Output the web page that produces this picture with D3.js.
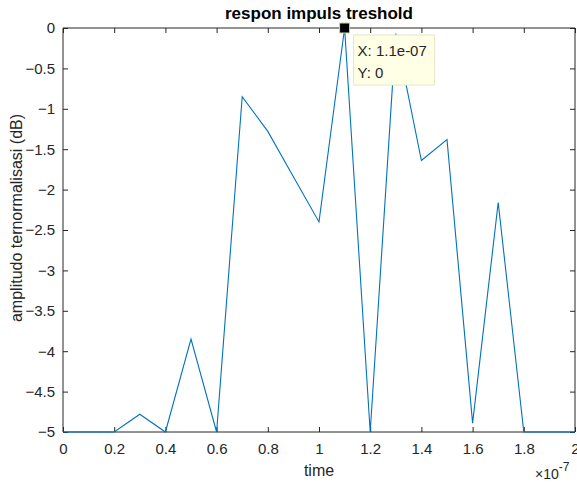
<!DOCTYPE html>
<html>
<head>
<meta charset="utf-8">
<script src="https://cdn.jsdelivr.net/npm/d3@7"></script>
<style>
  body { margin: 0; background: #fff; }
  svg { display: block; font-family: Arial, "Liberation Sans", Helvetica, sans-serif; }
</style>
</head>
<body>
<svg id="chart" width="577" height="485"></svg>
<script>
// Time axis (in units of 1e-7 s) and normalised impulse response (dB)
const timeValues = [0, 0.1, 0.2, 0.3, 0.4, 0.5, 0.6, 0.7, 0.8, 0.9, 1.0,
                    1.1, 1.2, 1.3, 1.4, 1.5, 1.6, 1.7, 1.8, 1.9, 2.0];
const amplitudeDb = [-5, -5, -5, -4.78, -5, -3.85, -5, -0.85, -1.28, -1.84, -2.40,
                     0, -5, -0.07, -1.64, -1.38, -4.89, -2.16, -5, -5, -5];
const xTicks = [0, 0.2, 0.4, 0.6, 0.8, 1, 1.2, 1.4, 1.6, 1.8, 2];
const yTicks = [0, -0.5, -1, -1.5, -2, -2.5, -3, -3.5, -4, -4.5, -5];
const tipPoint = { x: 1.1, y: 0, label: ["X: 1.1e-07", "Y: 0"] };

const svg = d3.select("#chart");
const m = { left: 63, right: 575, top: 28, bottom: 432 };
const axisColor = "#262626";

const x = d3.scaleLinear().domain([0, 2]).range([m.left, m.right]);
const y = d3.scaleLinear().domain([-5, 0]).range([m.bottom, m.top]);

const tickLen = 5;
const g = svg.append("g");

// axes box with inward ticks on all four sides
function styleAxis(sel) {
  sel.selectAll("path").attr("stroke", axisColor).attr("stroke-width", 1);
  sel.selectAll("line").attr("stroke", axisColor).attr("stroke-width", 1);
  sel.selectAll("text").attr("fill", axisColor).style("font-size", "15px");
}

g.append("g").attr("transform", `translate(0,${m.bottom})`)
  .call(d3.axisBottom(x).tickValues(xTicks).tickSize(-tickLen).tickPadding(11)
        .tickFormat(d => d3.format("")(d)))
  .call(styleAxis).call(s => s.select(".domain").attr("d", `M${m.left},0H${m.right}`));

g.append("g").attr("transform", `translate(0,${m.top})`)
  .call(d3.axisTop(x).tickValues(xTicks).tickSize(-tickLen).tickFormat(""))
  .call(styleAxis).call(s => s.select(".domain").attr("d", `M${m.left},0H${m.right}`));

g.append("g").attr("transform", `translate(${m.left},0)`)
  .call(d3.axisLeft(y).tickValues(yTicks).tickSize(-tickLen).tickPadding(8)
        .tickFormat(d => d3.format("")(d)))
  .call(styleAxis).call(s => s.select(".domain").attr("d", `M0,${m.top}V${m.bottom}`));

g.append("g").attr("transform", `translate(${m.right},0)`)
  .call(d3.axisRight(y).tickValues(yTicks).tickSize(-tickLen).tickFormat(""))
  .call(styleAxis).call(s => s.select(".domain").attr("d", `M0,${m.top}V${m.bottom}`));

// response line
const line = d3.line().x((d, i) => x(timeValues[i])).y(d => y(d));
svg.append("path")
  .datum(amplitudeDb)
  .attr("fill", "none")
  .attr("stroke", "#0072BD")
  .attr("stroke-width", 1.1)
  .attr("d", line);

// title and axis labels
svg.append("text")
  .attr("x", (m.left + m.right) / 2).attr("y", 19)
  .attr("text-anchor", "middle")
  .style("font-size", "17px").style("font-weight", "bold")
  .attr("fill", "#000")
  .text("respon impuls treshold");

svg.append("text")
  .attr("x", (m.left + m.right) / 2).attr("y", 476)
  .attr("text-anchor", "middle")
  .style("font-size", "16px").attr("fill", axisColor)
  .text("time");

svg.append("text")
  .attr("transform", `translate(22,${(m.top + m.bottom) / 2 - 12}) rotate(-90)`)
  .attr("text-anchor", "middle")
  .style("font-size", "16px").attr("fill", axisColor)
  .text("amplitudo ternormalisasi (dB)");

// exponent multiplier
const expo = svg.append("text")
  .attr("x", 535).attr("y", 479)
  .style("font-size", "14px").attr("fill", axisColor);
expo.append("tspan").text("\u00d710");
expo.append("tspan").attr("dy", -8).style("font-size", "12px").text("-7");

// data tip
const tx = x(tipPoint.x), ty = y(tipPoint.y);
const tip = svg.append("g");
tip.append("rect")
  .attr("x", tx + 9).attr("y", ty + 7)
  .attr("width", 81).attr("height", 50)
  .attr("fill", "#ffffe6").attr("stroke", "#e6e6c8").attr("stroke-width", 1);
tip.selectAll("text.tip").data(tipPoint.label).join("text")
  .attr("class", "tip")
  .attr("x", tx + 13).attr("y", (d, i) => ty + 28 + i * 22)
  .style("font-size", "15px").attr("fill", axisColor)
  .text(d => d);
tip.append("rect")
  .attr("x", tx - 5).attr("y", ty - 5)
  .attr("width", 10).attr("height", 10)
  .attr("fill", "#000").attr("stroke", "#d8d8a0").attr("stroke-width", 1);
</script>
</body>
</html>
